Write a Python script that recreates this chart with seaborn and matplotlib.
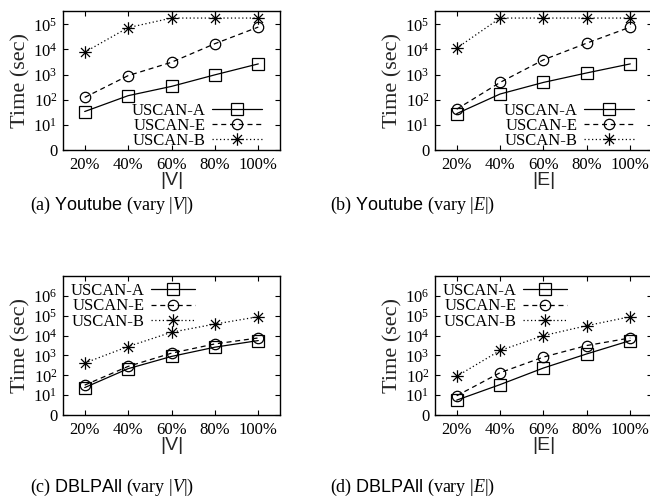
import numpy as np
import pandas as pd
import matplotlib
matplotlib.use("Agg")
import matplotlib.pyplot as plt
from matplotlib.path import Path
from matplotlib.font_manager import fontManager
import seaborn as sns

# ---- data -------------------------------------------------------------
x_labels = ["20%", "40%", "60%", "80%", "100%"]
series = ["USCAN-A", "USCAN-E", "USCAN-B"]

youtube_v_a = [34, 145, 340, 980, 2670]
youtube_v_e = [124, 910, 3100, 17000, 78000]
youtube_v_b = [7800, 74000, 178000, 178000, 178000]

youtube_e_a = [28, 169, 490, 1170, 2670]
youtube_e_e = [42, 490, 3880, 18000, 78000]
youtube_e_b = [11300, 178000, 178000, 178000, 178000]

dblp_v_a = [24, 215, 890, 2600, 5600]
dblp_v_e = [32, 280, 1300, 3800, 7600]
dblp_v_b = [413, 2800, 14700, 38000, 89000]

dblp_e_a = [5.6, 34, 233, 1200, 5600]
dblp_e_e = [9.3, 135, 830, 3160, 7600]
dblp_e_b = [89, 1780, 10000, 31600, 89000]

top_ytick_labels = ["0", r"$10^{1}$", r"$10^{2}$", r"$10^{3}$", r"$10^{4}$", r"$10^{5}$"]
bottom_ytick_labels = top_ytick_labels + [r"$10^{6}$"]

captions = [
    r"(a) $\mathsf{Youtube}$ (vary $|V|$)",
    r"(b) $\mathsf{Youtube}$ (vary $|E|$)",
    r"(c) $\mathsf{DBLPAll}$ (vary $|V|$)",
    r"(d) $\mathsf{DBLPAll}$ (vary $|E|$)",
]
xlabels = ["|V|", "|E|", "|V|", "|E|"]

# ---- style ------------------------------------------------------------
sns.set_theme(style="ticks")
installed = {f.name for f in fontManager.ttflist}
narrow = "Liberation Sans Narrow" if "Liberation Sans Narrow" in installed else "Liberation Sans"
plt.rcParams["font.family"] = ["Liberation Serif", "DejaVu Serif"]
plt.rcParams["mathtext.fontset"] = "custom"
plt.rcParams["mathtext.rm"] = "Liberation Serif"
plt.rcParams["mathtext.it"] = "Liberation Serif:italic"
plt.rcParams["mathtext.sf"] = narrow
plt.rcParams["axes.linewidth"] = 1.0
plt.rcParams["text.color"] = "black"

# eight-armed asterisk marker
star = Path(
    [(-1, 0), (1, 0), (0, -1), (0, 1),
     (-0.72, -0.72), (0.72, 0.72), (-0.72, 0.72), (0.72, -0.72)],
    [Path.MOVETO, Path.LINETO] * 4,
)
styles = {
    "USCAN-A": dict(marker="s", markersize=8.5, linestyle="-"),
    "USCAN-E": dict(marker="o", markersize=7.5, linestyle=(0, (4, 3))),
    "USCAN-B": dict(marker=star, markersize=9, linestyle=(0, (1, 2))),
}

panels = [
    (youtube_v_a, youtube_v_e, youtube_v_b),
    (youtube_e_a, youtube_e_e, youtube_e_b),
    (dblp_v_a, dblp_v_e, dblp_v_b),
    (dblp_e_a, dblp_e_e, dblp_e_b),
]

W, H = 650, 499
fig = plt.figure(figsize=(W / 100, H / 100), dpi=100)

# axes boxes in pixel coordinates: (left, top, right, bottom)
boxes = [(63, 11, 280, 150), (435, 11, 652, 150),
         (63, 276, 280, 415), (435, 276, 652, 415)]
caption_pos = [(112, 205), (412, 205), (112, 487), (412, 487)]

xpos = np.arange(len(x_labels))

for i, (vals, box) in enumerate(zip(panels, boxes)):
    l, t, r, b = box
    ax = fig.add_axes([l / W, 1 - b / H, (r - l) / W, (b - t) / H])
    df = pd.DataFrame({
        "pos": np.tile(xpos, 3),
        "time": np.concatenate(vals),
        "algo": np.repeat(series, len(xpos)),
    })
    for name in series:
        sub = df[df["algo"] == name]
        st = styles[name]
        sns.lineplot(
            data=sub, x="pos", y="time", ax=ax, color="black", lw=0.9,
            marker=st["marker"], markersize=st["markersize"],
            linestyle=st["linestyle"], markerfacecolor="none",
            markeredgecolor="black", markeredgewidth=0.9, label=name,
            legend=False,
        )
    ax.set_yscale("log")
    top_row = i < 2
    labels = top_ytick_labels if top_row else bottom_ytick_labels
    yticks = [10.0 ** k for k in range(len(labels))]
    ax.set_ylim(1, 3.4e5 if top_row else 1.0e7)
    ax.set_yticks(yticks)
    ax.set_yticklabels(labels)
    ax.yaxis.set_minor_locator(matplotlib.ticker.NullLocator())
    ax.set_xlim(-0.5, 4.5)
    ax.set_xticks(xpos)
    ax.set_xticklabels(x_labels)
    ax.tick_params(direction="in", length=3.5, width=0.8, top=True, right=True,
                   labelsize=12, colors="black", pad=5)
    ax.tick_params(axis="y", pad=4)
    for sp in ax.spines.values():
        sp.set_color("black")
        sp.set_linewidth(1.0)
    ax.set_ylabel("Time (sec)", fontsize=16, labelpad=2)
    ax.set_xlabel(xlabels[i], fontsize=14, family=[narrow], labelpad=-1)

    handles, hl = ax.get_legend_handles_labels()
    common = dict(markerfirst=False, frameon=False, fontsize=12,
                  handletextpad=0.4, labelspacing=-0.05, borderaxespad=0.2)
    if top_row:
        ax.legend(handles, hl, loc="lower right", bbox_to_anchor=(0.965, -0.065),
                  handlelength=3.0, **common)
    else:
        ax.legend(handles, hl, loc="upper left", bbox_to_anchor=(-0.01, 1.02),
                  handlelength=2.6, **common)

    cx, cy = caption_pos[i]
    fig.text(cx / W, 1 - cy / H, captions[i], ha="center", va="center", fontsize=13)

fig.savefig("out.png", dpi=100)
